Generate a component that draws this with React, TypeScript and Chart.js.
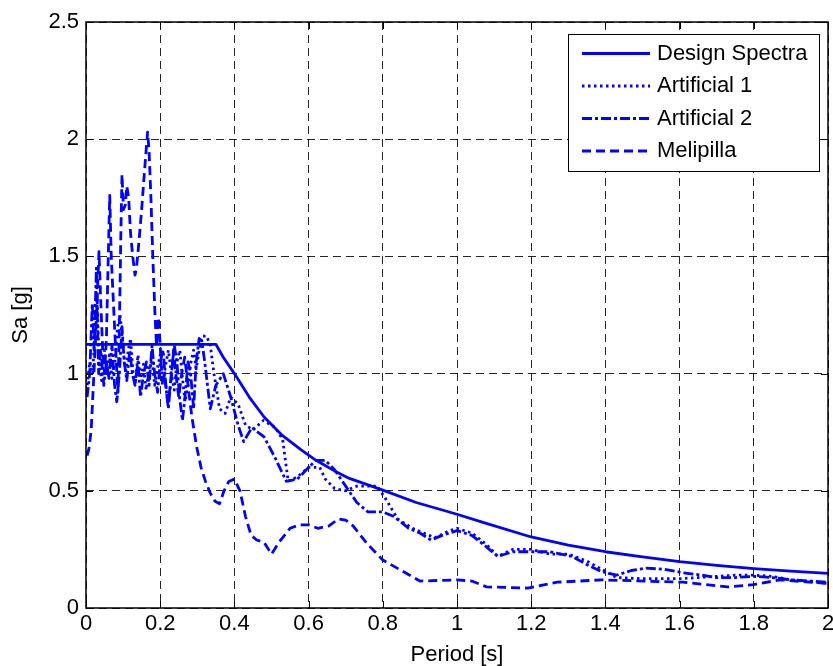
import React, { useEffect, useRef } from 'react';
import { Chart, registerables } from 'chart.js';

Chart.register(...registerables);

const FONT = '"Liberation Sans", Arial, Helvetica, sans-serif';

// Axis ticks
const periodTicks = [0, 0.2, 0.4, 0.6, 0.8, 1, 1.2, 1.4, 1.6, 1.8, 2];
const saTicks = [0, 0.5, 1, 1.5, 2, 2.5];

const seriesNames = ['Design Spectra', 'Artificial 1', 'Artificial 2', 'Melipilla'];

// [Period (s), Sa (g)]
const designSpectra: [number, number][] = [
  [0, 1.125], [0.35, 1.125], [0.37, 1.07], [0.4, 1.0], [0.44, 0.9], [0.48, 0.815],
  [0.53, 0.735], [0.58, 0.675], [0.62, 0.63], [0.67, 0.585], [0.71, 0.553], [0.76, 0.525],
  [0.8, 0.503], [0.89, 0.45], [1.0, 0.4], [1.07, 0.365], [1.2, 0.303], [1.3, 0.268],
  [1.4, 0.24], [1.5, 0.218], [1.6, 0.198], [1.7, 0.182], [1.8, 0.168], [1.9, 0.157], [2.0, 0.148],
];

const artificial1: [number, number][] = [
  [0.003, 0.95], [0.01, 1.05], [0.018, 1.0], [0.025, 1.2], [0.03, 1.32], [0.035, 1.05],
  [0.042, 0.97], [0.05, 1.1], [0.056, 1.0], [0.063, 1.08], [0.07, 0.98], [0.078, 1.05],
  [0.085, 1.2], [0.092, 1.25], [0.1, 1.12], [0.107, 1.0], [0.114, 1.1], [0.12, 1.15],
  [0.127, 1.0], [0.133, 0.96], [0.14, 1.08], [0.147, 0.98], [0.155, 1.04], [0.162, 0.93],
  [0.17, 1.02], [0.178, 1.06], [0.185, 0.95], [0.192, 1.02], [0.2, 1.08], [0.207, 0.96],
  [0.215, 1.04], [0.222, 1.1], [0.23, 1.0], [0.238, 0.93], [0.245, 1.05], [0.253, 1.1],
  [0.26, 0.98], [0.267, 0.88], [0.275, 0.95], [0.283, 1.05], [0.29, 1.1], [0.297, 1.02],
  [0.305, 1.1], [0.315, 1.16], [0.325, 1.16], [0.335, 1.12], [0.345, 1.0], [0.36, 0.85],
  [0.375, 0.83], [0.39, 0.9], [0.41, 0.87], [0.43, 0.78], [0.45, 0.76], [0.478, 0.8],
  [0.51, 0.77], [0.53, 0.72], [0.545, 0.54], [0.57, 0.56], [0.6, 0.6], [0.63, 0.6],
  [0.645, 0.55], [0.67, 0.51], [0.7, 0.5], [0.73, 0.52], [0.76, 0.52], [0.785, 0.52],
  [0.81, 0.46], [0.84, 0.38], [0.88, 0.34], [0.91, 0.32], [0.94, 0.3], [0.98, 0.33],
  [1.0, 0.34], [1.04, 0.32], [1.08, 0.27], [1.11, 0.22], [1.15, 0.25], [1.2, 0.25],
  [1.25, 0.23], [1.3, 0.23], [1.35, 0.2], [1.39, 0.165], [1.43, 0.13], [1.5, 0.125],
  [1.6, 0.125], [1.65, 0.13], [1.7, 0.135], [1.75, 0.14], [1.8, 0.14], [1.85, 0.135],
  [1.9, 0.12], [2.0, 0.105],
];

const artificial2: [number, number][] = [
  [0.003, 0.9], [0.01, 1.0], [0.017, 1.3], [0.022, 1.1], [0.028, 1.45], [0.034, 1.0],
  [0.04, 1.1], [0.048, 0.95], [0.055, 1.05], [0.062, 0.98], [0.07, 1.12], [0.077, 0.95],
  [0.083, 0.88], [0.09, 1.0], [0.097, 1.2], [0.103, 1.05], [0.11, 0.97], [0.118, 1.1],
  [0.125, 1.0], [0.132, 0.95], [0.14, 1.05], [0.147, 0.9], [0.155, 1.0], [0.163, 1.05],
  [0.17, 0.95], [0.178, 1.12], [0.185, 1.0], [0.193, 0.92], [0.2, 1.05], [0.208, 1.1],
  [0.215, 0.95], [0.222, 0.85], [0.23, 1.0], [0.238, 1.12], [0.245, 1.05], [0.252, 0.9],
  [0.26, 0.8], [0.268, 0.92], [0.275, 1.05], [0.282, 1.0], [0.29, 0.85], [0.297, 1.05],
  [0.305, 1.15], [0.312, 1.14], [0.32, 1.05], [0.335, 0.85], [0.35, 0.95], [0.37, 1.0],
  [0.39, 0.9], [0.41, 0.78], [0.425, 0.71], [0.447, 0.77], [0.48, 0.73], [0.51, 0.64],
  [0.54, 0.54], [0.57, 0.55], [0.6, 0.6], [0.62, 0.63], [0.645, 0.63], [0.67, 0.59],
  [0.7, 0.52], [0.73, 0.45], [0.76, 0.41], [0.8, 0.41], [0.83, 0.39], [0.87, 0.34],
  [0.9, 0.32], [0.93, 0.29], [0.96, 0.31], [1.0, 0.33], [1.04, 0.31], [1.08, 0.26],
  [1.11, 0.22], [1.15, 0.24], [1.2, 0.24], [1.25, 0.24], [1.31, 0.22], [1.35, 0.185],
  [1.39, 0.155], [1.43, 0.14], [1.47, 0.16], [1.51, 0.17], [1.56, 0.165], [1.61, 0.15],
  [1.66, 0.14], [1.7, 0.13], [1.75, 0.13], [1.8, 0.135], [1.85, 0.13], [1.9, 0.12], [2.0, 0.11],
];

const melipilla: [number, number][] = [
  [0.003, 0.65], [0.008, 0.68], [0.014, 0.76], [0.025, 1.12], [0.035, 1.52], [0.04, 1.3],
  [0.045, 1.1], [0.05, 1.0], [0.055, 1.15], [0.06, 1.5], [0.064, 1.76], [0.068, 1.5],
  [0.074, 1.3], [0.08, 1.1], [0.086, 0.92], [0.09, 1.2], [0.094, 1.6], [0.097, 1.85],
  [0.101, 1.7], [0.106, 1.72], [0.11, 1.8], [0.115, 1.75], [0.12, 1.6], [0.126, 1.5],
  [0.132, 1.42], [0.136, 1.45], [0.142, 1.55], [0.15, 1.7], [0.157, 1.85], [0.162, 1.95],
  [0.166, 2.03], [0.17, 1.95], [0.175, 1.75], [0.18, 1.5], [0.186, 1.25], [0.19, 1.12],
  [0.195, 1.24], [0.2, 1.12], [0.206, 0.95], [0.212, 1.0], [0.22, 0.88], [0.228, 0.95],
  [0.236, 1.1], [0.242, 1.0], [0.25, 0.9], [0.258, 1.0], [0.266, 1.07], [0.275, 0.95],
  [0.285, 0.82], [0.298, 0.69], [0.31, 0.6], [0.322, 0.54], [0.335, 0.49], [0.348, 0.455],
  [0.36, 0.445], [0.372, 0.5], [0.385, 0.54], [0.4, 0.55], [0.415, 0.5], [0.43, 0.39],
  [0.445, 0.31], [0.46, 0.29], [0.48, 0.28], [0.5, 0.23], [0.52, 0.28], [0.55, 0.34],
  [0.575, 0.355], [0.6, 0.355], [0.625, 0.34], [0.655, 0.35], [0.68, 0.38], [0.7, 0.375],
  [0.72, 0.35], [0.76, 0.27], [0.8, 0.205], [0.85, 0.16], [0.9, 0.115], [1.0, 0.12],
  [1.04, 0.115], [1.08, 0.09], [1.19, 0.085], [1.27, 0.11], [1.39, 0.12], [1.61, 0.11],
  [1.73, 0.09], [1.8, 0.1], [1.87, 0.12], [2.0, 0.105],
];

const BLUE = '#0000ff';
const LINE_W = 2.8;
const seriesData = [designSpectra, artificial1, artificial2, melipilla];
const seriesDash: number[][] = [[], [2.5, 3.5], [10, 3, 3, 3], [9, 5]];

const fmt = (v: number) => String(Number(v.toFixed(2)));

const framePlugin = {
  id: 'matlabFrame',
  afterDatasetsDraw(chart: any) {
    const { ctx, chartArea } = chart;
    const { left, right, top, bottom } = chartArea;
    const xs = chart.scales.x;
    const ys = chart.scales.y;
    ctx.save();
    ctx.setLineDash([]);
    ctx.strokeStyle = '#000';
    ctx.lineWidth = 1.5;
    ctx.strokeRect(left, top, right - left, bottom - top);
    ctx.lineWidth = 1;
    const tl = 7;
    ctx.beginPath();
    periodTicks.forEach((t) => {
      const px = Math.round(xs.getPixelForValue(t)) + 0.5;
      ctx.moveTo(px, bottom);
      ctx.lineTo(px, bottom - tl);
      ctx.moveTo(px, top);
      ctx.lineTo(px, top + tl);
    });
    saTicks.forEach((v) => {
      const py = Math.round(ys.getPixelForValue(v)) + 0.5;
      ctx.moveTo(left, py);
      ctx.lineTo(left + tl, py);
      ctx.moveTo(right, py);
      ctx.lineTo(right - tl, py);
    });
    ctx.stroke();
    ctx.restore();
  },
  afterDraw(chart: any) {
    const { ctx } = chart;
    ctx.save();
    const bx = 568, by = 34, bw = 251, bh = 137;
    ctx.fillStyle = '#fff';
    ctx.fillRect(bx, by, bw, bh);
    ctx.setLineDash([]);
    ctx.strokeStyle = '#000';
    ctx.lineWidth = 1;
    ctx.strokeRect(bx + 0.5, by + 0.5, bw, bh);
    const rows = [53.5, 86, 118.5, 151];
    ctx.font = `22px ${FONT}`;
    ctx.textBaseline = 'middle';
    ctx.textAlign = 'left';
    seriesNames.forEach((name, i) => {
      ctx.beginPath();
      ctx.strokeStyle = BLUE;
      ctx.lineWidth = LINE_W;
      ctx.lineCap = 'butt';
      ctx.setLineDash(seriesDash[i]);
      ctx.moveTo(582, rows[i]);
      ctx.lineTo(650, rows[i]);
      ctx.stroke();
      ctx.setLineDash([]);
      ctx.fillStyle = '#000';
      ctx.fillText(name, 657, rows[i]);
    });
    ctx.restore();
  },
};

export default function App() {
  const ref = useRef<HTMLCanvasElement>(null);

  useEffect(() => {
    const canvas = ref.current;
    if (!canvas) return;
    const datasets = seriesData.map((pts, i) => ({
      label: seriesNames[i],
      data: pts.map(([x, y]) => ({ x, y })),
      borderColor: BLUE,
      backgroundColor: BLUE,
      borderWidth: LINE_W,
      borderDash: seriesDash[i],
      borderCapStyle: 'butt' as const,
      borderJoinStyle: 'round' as const,
      pointRadius: 0,
      tension: 0,
      fill: false,
    }));
    const gridStyle = { color: 'rgba(0,0,0,0.85)', lineWidth: 1, drawTicks: false };
    const chart = new Chart(canvas, {
      type: 'line',
      data: { datasets },
      options: {
        animation: false,
        responsive: false,
        devicePixelRatio: 1,
        layout: { padding: { left: 0, right: 5, top: 22, bottom: 0 } },
        plugins: { legend: { display: false }, tooltip: { enabled: false } },
        scales: {
          x: {
            type: 'linear',
            min: 0,
            max: 2,
            afterBuildTicks: (scale: any) => {
              scale.ticks = periodTicks.map((v) => ({ value: v }));
            },
            afterFit: (scale: any) => {
              scale.height = 58;
              scale.paddingLeft = 0;
              scale.paddingRight = 0;
            },
            ticks: {
              color: '#000',
              font: { family: FONT, size: 22 },
              padding: 3,
              maxRotation: 0,
              autoSkip: false,
              callback: (v: any) => fmt(Number(v)),
            },
            grid: gridStyle,
            border: { display: false, dash: [8, 5] },
            title: {
              display: true,
              text: 'Period [s]',
              color: '#000',
              font: { family: FONT, size: 22, lineHeight: 1 },
              padding: { top: 0, bottom: 0 },
            },
          },
          y: {
            type: 'linear',
            min: 0,
            max: 2.5,
            afterBuildTicks: (scale: any) => {
              scale.ticks = saTicks.map((v) => ({ value: v }));
            },
            afterFit: (scale: any) => {
              scale.width = 86;
              scale.paddingTop = 0;
              scale.paddingBottom = 0;
            },
            ticks: {
              color: '#000',
              font: { family: FONT, size: 22 },
              padding: 7,
              autoSkip: false,
              callback: (v: any) => fmt(Number(v)),
            },
            grid: gridStyle,
            border: { display: false, dash: [8, 5] },
            title: {
              display: true,
              text: 'Sa [g]',
              color: '#000',
              font: { family: FONT, size: 22, lineHeight: 1 },
              padding: { top: 10, bottom: 0 },
            },
          },
        },
      },
      plugins: [framePlugin],
    });
    return () => chart.destroy();
  }, []);

  return (
    <div style={{ position: 'fixed', left: 0, top: 0, width: 833, height: 666, background: '#fff' }}>
      <canvas ref={ref} width={833} height={666} style={{ display: 'block', width: 833, height: 666 }} />
    </div>
  );
}
